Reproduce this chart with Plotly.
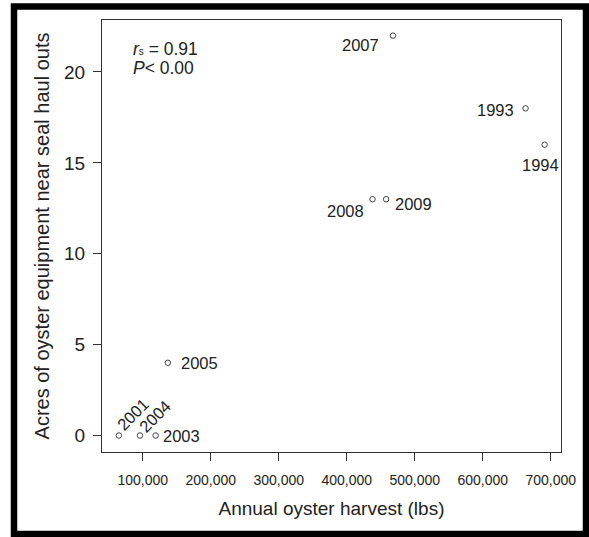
import plotly.graph_objects as go

# Harvest vs. gear acreage by year
years = ["2007", "1993", "1994", "2008", "2009", "2005", "2001", "2004", "2003"]
harvest_lbs = [468000, 663000, 691000, 438000, 458000, 137000, 65000, 96000, 119000]
gear_acres = [22, 18, 16, 13, 13, 4, 0, 0, 0]

x_ticks = [100000, 200000, 300000, 400000, 500000, 600000, 700000]
x_tick_text = ["100,000", "200,000", "300,000", "400,000", "500,000", "600,000", "700,000"]
y_ticks = [0, 5, 10, 15, 20]

# label placement per year: (dx px, dy px, angle)
label_style = {
    "2007": (-32, -9, 0),
    "1993": (-30, -2, 0),
    "1994": (-4, -20, 0),
    "2008": (-27, -12, 0),
    "2009": (27, -5, 0),
    "2005": (32, 0, 0),
    "2003": (26, 0, 0),
    "2001": (14, 22, -45),
    "2004": (15, 20, -45),
}

W, H = 589, 537
L, R, T, B = 102, 561, 20, 452
FONT = "Liberation Sans, Arial, Helvetica, sans-serif"
INK = "#222222"


def px(xp):
    return (xp - L) / (R - L)


def py(yp):
    return (B - yp) / (B - T)


fig = go.Figure()
fig.add_trace(go.Scatter(
    x=harvest_lbs, y=gear_acres, mode="markers",
    marker=dict(symbol="circle-open", size=5.5, color="#444444", line=dict(width=1)),
    hoverinfo="skip", showlegend=False,
))

annotations = []
for yr, xv, yv in zip(years, harvest_lbs, gear_acres):
    dx, dy, ang = label_style[yr]
    annotations.append(dict(
        x=xv, y=yv, xref="x", yref="y", text=yr, showarrow=False,
        xshift=dx, yshift=dy, textangle=ang, xanchor="center", yanchor="middle",
        font=dict(family=FONT, size=16.5, color=INK),
    ))

annotations.append(dict(
    x=px(131), y=py(49), xref="paper", yref="paper",
    text="<i>r</i><span style='font-size:10px'>s</span> = 0.91", showarrow=False,
    xanchor="left", yanchor="middle", font=dict(family=FONT, size=17.5, color=INK),
))
annotations.append(dict(
    x=px(131), y=py(68), xref="paper", yref="paper",
    text="<i>P</i>&lt; 0.00", showarrow=False,
    xanchor="left", yanchor="middle", font=dict(family=FONT, size=17.5, color=INK),
))

fig.update_layout(
    width=W, height=H,
    margin=dict(l=L, r=W - R, t=T, b=H - B, pad=0),
    paper_bgcolor="white", plot_bgcolor="white",
    font=dict(family=FONT, color=INK),
    annotations=annotations,
    shapes=[dict(
        type="rect", xref="paper", yref="paper",
        x0=px(14), x1=px(586), y0=py(534), y1=py(6.5),
        line=dict(color="black", width=6.5), fillcolor="rgba(0,0,0,0)", layer="below",
    )],
)

fig.update_xaxes(
    range=[40150, 715150], tickvals=x_ticks, ticktext=x_tick_text,
    showgrid=False, zeroline=False, showline=True, mirror=True,
    linecolor="#333333", linewidth=1,
    ticks="outside", ticklen=8, tickcolor="#333333", tickwidth=1,
    ticklabelstandoff=7,
    tickfont=dict(family=FONT, size=14, color=INK),
    title=dict(text="Annual oyster harvest (lbs)", font=dict(family=FONT, size=19, color=INK), standoff=14),
)
fig.update_yaxes(
    range=[-0.908, 22.86], tickvals=y_ticks,
    showgrid=False, zeroline=False, showline=True, mirror=True,
    linecolor="#333333", linewidth=1,
    ticks="outside", ticklen=8, tickcolor="#333333", tickwidth=1,
    ticklabelstandoff=4,
    tickfont=dict(family=FONT, size=19, color=INK),
    title=dict(text="Acres of oyster equipment near seal haul outs", font=dict(family=FONT, size=20, color=INK), standoff=9),
)

fig.write_html("out.html")
